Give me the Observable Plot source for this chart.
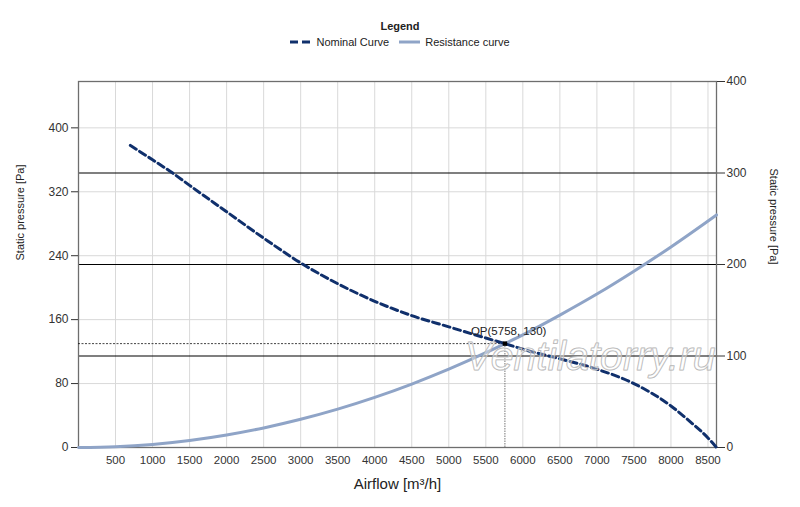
<!DOCTYPE html>
<html>
<head>
<meta charset="utf-8">
<script src="https://cdn.jsdelivr.net/npm/d3@7"></script>
<script src="https://cdn.jsdelivr.net/npm/@observablehq/plot@0.6"></script>
<style>
  html, body { margin: 0; padding: 0; background: #fff; }
  body { width: 800px; height: 507px; overflow: hidden; font-family: "Liberation Sans", Arial, sans-serif; color: #222; }
  #legend { height: 60px; position: relative; }
  #legend .title { position: absolute; top: 20px; left: 0; width: 800px; text-align: center; font-weight: bold; font-size: 11px; }
  #legend .items { position: absolute; top: 36px; left: 0; width: 800px; display: flex; justify-content: center; align-items: center; font-size: 11px; }
  #legend .item { display: flex; align-items: center; margin: 0 5px; }
  #legend svg { margin-right: 5px; }
  #chart svg { display: block; overflow: visible; }
</style>
</head>
<body>
<div id="legend">
  <div class="title">Legend</div>
  <div class="items">
    <div class="item"><svg width="21" height="6"><line x1="0" y1="3" x2="21" y2="3" stroke="#10306c" stroke-width="3" stroke-dasharray="8,4"/></svg><span>Nominal Curve</span></div>
    <div class="item"><svg width="21" height="6"><line x1="0" y1="3" x2="21" y2="3" stroke="#8fa4c7" stroke-width="3"/></svg><span>Resistance curve</span></div>
  </div>
</div>
<div id="chart"></div>
<script>
// Data
const nominalQ = [700, 1000, 1262, 1500, 2000, 2500, 3000, 3500, 4000, 4500, 5000, 5500, 5758, 6000, 6500, 7000, 7500, 8000, 8250, 8500, 8615];
const nominalP = [378, 360, 344, 328, 295, 262, 231, 205, 183, 165, 151, 137, 130, 123, 111, 98, 80, 52, 33, 12, 0];
const resistQ = [0, 500, 1000, 1500, 2000, 2500, 3000, 3500, 4000, 4500, 5000, 5500, 5758, 6000, 6500, 7000, 7500, 8000, 8615];
const resistP = [0, 1, 3.9, 8.8, 15.7, 24.5, 35.3, 48, 62.7, 79.4, 98, 118.6, 130, 141, 165.7, 192, 220.6, 251, 291];
const opQ = 5758;
const opP = 130;
const xTicks = [500, 1000, 1500, 2000, 2500, 3000, 3500, 4000, 4500, 5000, 5500, 6000, 6500, 7000, 7500, 8000, 8500];
const leftTicks = [0, 80, 160, 240, 320, 400];
const rightTicks = [0, 100, 200, 300, 400];
const xMax = 8615;
const leftMax = 458;
const rightMax = 400;

const nominal = nominalQ.map((q, i) => ({q, p: nominalP[i]}));
const resist = resistQ.map((q, i) => ({q, p: resistP[i]}));
const op = [{q: opQ, p: opP}];
const toLeft = r => r * leftMax / rightMax;
const rightInLeft = rightTicks.map(toLeft);

const font = '"Liberation Sans", Arial, sans-serif';

const chart = Plot.plot({
  width: 800,
  height: 447,
  marginLeft: 78,
  marginRight: 84,
  marginTop: 21,
  marginBottom: 60,
  style: {fontFamily: font, fontSize: "12px", color: "#333", background: "white"},
  x: {domain: [0, xMax]},
  y: {domain: [0, leftMax]},
  marks: [
    Plot.gridX(xTicks, {stroke: "#d9d9d9", strokeOpacity: 1}),
    Plot.gridY(leftTicks, {stroke: "#d9d9d9", strokeOpacity: 1}),
    Plot.ruleY(rightInLeft.filter(v => v > 0 && v < leftMax), {stroke: "#000", strokeWidth: 1.1}),
    Plot.frame({stroke: "#6e6e6e", strokeWidth: 1.3}),
    Plot.axisX(xTicks, {tickSize: 0, tickPadding: 8, fontSize: 11.5, label: null, tickFormat: d => String(d)}),
    Plot.axisY(leftTicks, {anchor: "left", tickSize: 7, tickPadding: 3, fontSize: 12, label: null, tickFormat: d => String(d)}),
    Plot.axisY(rightInLeft, {anchor: "right", tickSize: 8, tickPadding: 2, fontSize: 12, label: null, tickFormat: d => String(Math.round(d * rightMax / leftMax))}),
    Plot.ruleY(op, {y: "p", x1: 0, x2: "q", stroke: "#111", strokeWidth: 0.8, strokeDasharray: "2,1.5"}),
    Plot.ruleX(op, {x: "q", y1: 0, y2: "p", stroke: "#777", strokeWidth: 1, strokeDasharray: "1.5,1"}),
    Plot.line(resist, {x: "q", y: "p", stroke: "#8fa4c7", strokeWidth: 3, curve: "monotone-x"}),
    Plot.line(nominal, {x: "q", y: "p", stroke: "#10306c", strokeWidth: 3, strokeDasharray: "7,4", curve: "monotone-x"}),
    Plot.text(["Ventilatorry.ru"], {text: d => d, frameAnchor: "right", textAnchor: "end", dx: -1, dy: 92, fontSize: 41, fontStyle: "italic", fill: "white", fillOpacity: 0.35, stroke: "#b0b0b0", strokeWidth: 1}),
    Plot.dot(op, {x: "q", y: "p", symbol: "square", r: 2.5, fill: "#000"}),
    Plot.text(op, {x: "q", y: "p", text: d => `OP(${d.q}, ${d.p})`, textAnchor: "start", dx: -34, dy: -12, fontSize: 11.5, fill: "#222"}),
    Plot.text(["Static pressure [Pa]"], {text: d => d, frameAnchor: "left", dx: -58, dy: -4, rotate: -90, fontSize: 11, fill: "#222"}),
    Plot.text(["Static pressure [Pa]"], {text: d => d, frameAnchor: "right", dx: 57, dy: 0, rotate: 90, fontSize: 11, fill: "#222"}),
    Plot.text(["Airflow [m³/h]"], {text: d => d, frameAnchor: "bottom", dy: 41, fontSize: 15, fill: "#222"})
  ]
});
document.getElementById("chart").appendChild(chart);
</script>
</body>
</html>
